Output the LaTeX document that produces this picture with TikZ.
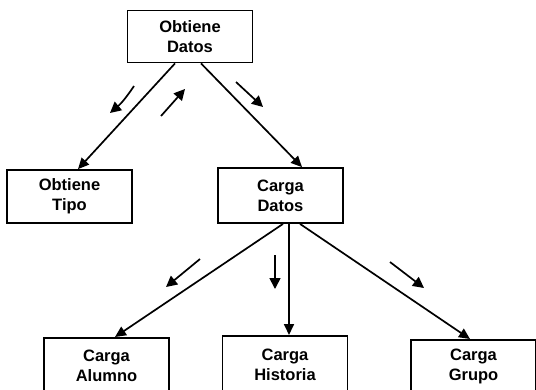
\documentclass[tikz,border=0pt]{standalone}
\usepackage{fontspec}
\setmainfont{Liberation Sans}
\usetikzlibrary{arrows.meta}
\begin{document}
\begin{tikzpicture}[x=1pt,y=-1pt,
  proc/.style={draw,line width=1.8pt,rectangle,minimum width=125pt,align=center,
    font=\bfseries\fontsize{16.5}{20}\selectfont,inner sep=0pt},
  link/.style={line width=1.7pt,-{Triangle[length=11pt,width=10pt]}},
  flow/.style={line width=1.7pt,-{Triangle[length=11pt,width=11pt]}}]
\useasboundingbox (0,0) rectangle (536,389);
\clip (0,0) rectangle (536,389);

% process boxes
\node[proc,minimum height=52pt] (od) at (190,36.5) {Obtiene\\Datos};
\node[proc,minimum height=53pt] (ot) at (69.5,196.5) {Obtiene\\Tipo};
\node[proc,minimum height=55pt] (cd) at (280.5,195.5) {Carga\\Datos};
\node[proc,minimum height=56pt,anchor=north] (ca) at (106.5,337) {Carga\\Alumno};
\node[proc,minimum height=58pt,anchor=north] (ch) at (285,335) {Carga\\Historia};
\node[proc,minimum height=54pt,anchor=north] (cg) at (473.5,339) {Carga\\Grupo};

% calls between modules
\draw[link] ([xshift=-15pt]od.south) -- ([xshift=8.5pt]ot.north);
\draw[link] ([xshift=11pt]od.south) -- ([xshift=21.5pt]cd.north);
\draw[link] ([xshift=2.5pt]cd.south) -- ([xshift=8.5pt]ca.north);
\draw[link] ([xshift=8.5pt]cd.south) -- ([xshift=4pt]ch.north);
\draw[link] ([xshift=19.5pt]cd.south) -- ([xshift=-3.5pt]cg.north);

% data flow markers
\draw[flow] (134,86) to[bend left=8] (110,113);
\draw[flow] (161,116) -- (185,89);
\draw[flow] (236,82) -- (263,107);
\draw[flow] (200,259) -- (166,287);
\draw[flow] (275,255) -- (275,289);
\draw[flow] (390,262) -- (424,288);
\end{tikzpicture}
\end{document}
